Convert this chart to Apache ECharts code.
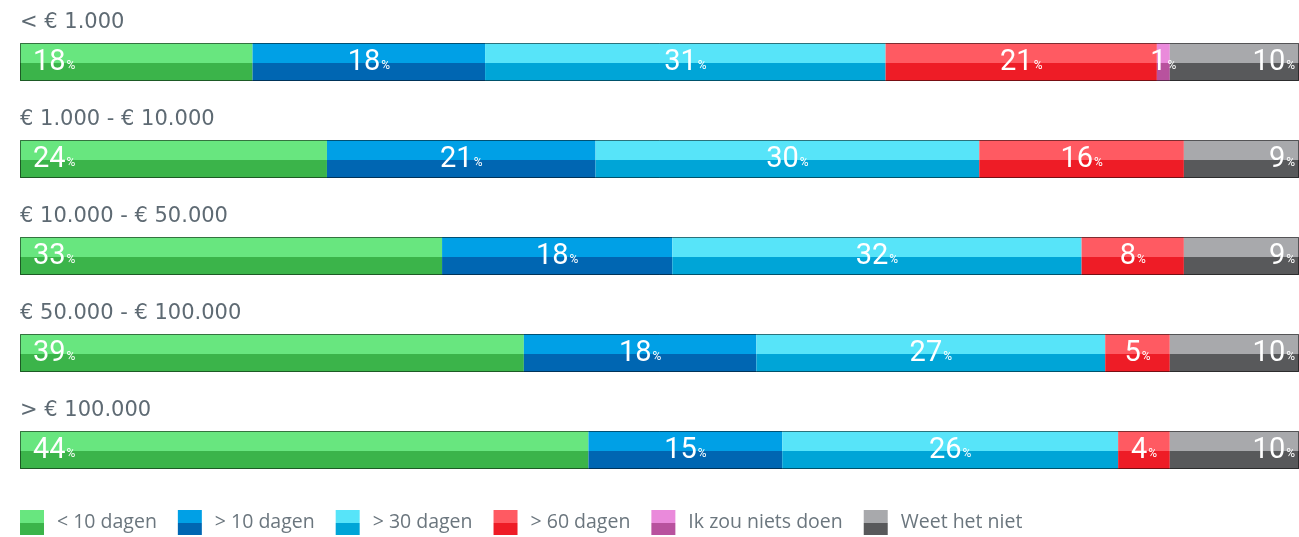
<!DOCTYPE html>
<html><head><meta charset="utf-8">
<script src="https://cdn.jsdelivr.net/npm/echarts@6/dist/echarts.min.js"></script>
<style>html,body{margin:0;padding:0;background:#fff}#c{width:1299px;height:537px}</style>
</head><body><div id="c"></div><script>
const categories = ['< € 1.000', '€ 1.000 - € 10.000', '€ 10.000 - € 50.000', '€ 50.000 - € 100.000', '> € 100.000'];
const seriesNames = ['< 10 dagen', '> 10 dagen', '> 30 dagen', '> 60 dagen', 'Ik zou niets doen', 'Weet het niet'];
const lt10  = [18, 24, 33, 39, 44];
const gt10  = [18, 21, 18, 18, 15];
const gt30  = [31, 30, 32, 27, 26];
const gt60  = [21, 16, 8, 5, 4];
const niets = [1, 0, 0, 0, 0];
const weet  = [10, 9, 9, 10, 10];

const lightColors = ['#68e67f', '#00a0e6', '#57e4f9', '#ff5a62', '#ea8adb', '#a8a9ac'];
const darkColors  = ['#3bb44a', '#0066b2', '#00a5d7', '#ee1c26', '#b8529e', '#58595b'];
const raw = [lt10, gt10, gt30, gt60, niets, weet];
const rowSums = categories.map((_, i) => raw.reduce((s, a) => s + a[i], 0));
const FONT = "'Open Sans', 'Noto Sans', sans-serif";
const TITLEFONT = "'DejaVu Sans', sans-serif";
const NUMFONT = "Roboto, sans-serif";

function grad(l, d) {
  return {type: 'linear', x: 0, y: 0, x2: 0, y2: 1, colorStops: [
    {offset: 0, color: l}, {offset: 0.52, color: l}, {offset: 0.52, color: d}, {offset: 1, color: d}]};
}
const series = raw.map((arr, k) => ({
  name: seriesNames[k], type: 'bar', stack: 'total', barWidth: 38,
  itemStyle: {color: grad(lightColors[k], darkColors[k])},
  emphasis: {disabled: true},
  data: arr.map((v, i) => v / rowSums[i] * 100),
  label: {
    show: true,
    position: k === 0 ? 'insideLeft' : (k === raw.length - 1 ? 'insideRight' : 'inside'),
    distance: k === 0 ? 13 : 4,
    formatter: p => arr[p.dataIndex] > 0 ? '{n|' + arr[p.dataIndex] + '}{p|%}' : '',
    rich: {
      n: {fontSize: 29, color: '#fff', fontFamily: NUMFONT, verticalAlign: 'bottom', lineHeight: 30},
      p: {fontSize: 12, color: '#fff', fontFamily: NUMFONT, verticalAlign: 'bottom', lineHeight: 12, padding: [0, 0, 5, 1]}
    }
  }
}));
series.push({
  name: 'outline', type: 'bar', barWidth: 38, barGap: '-100%', z: 5, silent: true,
  itemStyle: {color: 'rgba(0,0,0,0)', borderColor: 'rgba(0,0,0,0.5)', borderWidth: 1},
  data: rowSums.map((s, i) => raw.reduce((t, a) => t + a[i], 0) / s * 100)
});

const chart = echarts.init(document.getElementById('c'));
chart.setOption({
  animation: false,
  grid: {left: 20, width: 1283, top: 13.5, height: 485},
  xAxis: {type: 'value', min: 0, max: 100, show: false},
  yAxis: {
    type: 'category', data: categories, inverse: true,
    axisLine: {show: false}, axisTick: {show: false},
    axisLabel: {inside: true, align: 'left', verticalAlign: 'bottom', margin: 0, interval: 0,
      padding: [0, 0, 29, 0], fontSize: 21, color: '#5e6a73', fontFamily: TITLEFONT}
  },
  legend: {
    data: seriesNames, left: 20, top: 510, padding: 0, icon: 'rect', itemWidth: 24, itemHeight: 25, itemGap: 21,
    selectedMode: false,
    textStyle: {fontSize: 19.5, color: '#6b767e', fontFamily: FONT, padding: [0, 0, 0, 8]}
  },
  series: series
});
</script></body></html>
